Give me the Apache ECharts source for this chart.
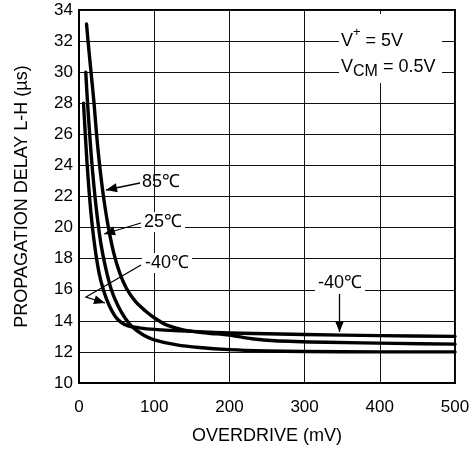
<!DOCTYPE html>
<html><head><meta charset="utf-8">
<script src="https://cdn.jsdelivr.net/npm/echarts@6/dist/echarts.min.js"></script>
<style>html,body{margin:0;padding:0;background:#fff}#c{width:473px;height:451px}</style>
</head><body><div id="c"></div>
<script>
// ---- data ----
const xTicks = [0, 100, 200, 300, 400, 500];
const yTicks = [10, 12, 14, 16, 18, 20, 22, 24, 26, 28, 30, 32, 34];
const overdrive85 = [10, 13, 16, 20, 23, 27, 32, 38, 46, 54, 63, 75, 88, 100, 117, 140, 170, 200, 230, 260, 330, 420, 500];
const delay85     = [33.1, 31.5, 30, 28, 26.2, 24.2, 22.2, 20.3, 18.4, 17.1, 16.1, 15.25, 14.65, 14.2, 13.72, 13.4, 13.22, 13.08, 12.85, 12.72, 12.62, 12.55, 12.5];
const overdrive25 = [9, 11, 13.5, 16.5, 20, 24, 29, 35, 43, 52, 61, 70, 85, 100, 130, 160, 200, 250, 300, 400, 500];
const delay25     = [30, 28.3, 26.5, 24.5, 22.6, 20.8, 19, 17.5, 16, 14.95, 14.2, 13.65, 13.1, 12.78, 12.45, 12.28, 12.15, 12.07, 12.03, 12.0, 12.0];
const overdriveM40 = [6, 8, 10.5, 13.5, 17, 21.5, 27, 33, 40, 48, 56, 65, 80, 100, 150, 200, 300, 400, 500];
const delayM40     = [28, 26.3, 24.3, 22.3, 20.4, 18.6, 17, 15.9, 15, 14.3, 13.9, 13.68, 13.55, 13.45, 13.32, 13.22, 13.12, 13.05, 13.0];

const pair = (xs, ys) => xs.map((x, i) => [x, ys[i]]);

const FONT = '"Liberation Sans", Arial, Helvetica, sans-serif';
const FS_TICK = 17, FS_NAME = 18, FS_ANN = 18;
const chart = echarts.init(document.getElementById('c'), null, {renderer: 'canvas'});

const lineSeries = (name, data) => ({
  name, type: 'line', data, symbol: 'none', smooth: 0.3,
  lineStyle: {color: '#000', width: 3.4, join: 'round', cap: 'round'}, z: 5, animation: false
});

function arrow(points, color) {
  const els = [];
  els.push({type: 'polyline', shape: {points}, style: {stroke: color, lineWidth: 1.3, fill: null}, z: 20});
  const [x1, y1] = points[points.length - 2];
  const [x2, y2] = points[points.length - 1];
  const a = Math.atan2(y2 - y1, x2 - x1);
  const L = 11, W = 4.5;
  const bx = x2 - L * Math.cos(a), by = y2 - L * Math.sin(a);
  els.push({type: 'polygon', shape: {points: [[x2, y2],
    [bx + W * Math.sin(a), by - W * Math.cos(a)],
    [bx - W * Math.sin(a), by + W * Math.cos(a)]]},
    style: {fill: color}, z: 21});
  return els;
}
function label(text, x, y, bg) {
  return {type: 'text', x, y, z: 22, style: {text, font: FS_ANN + 'px ' + FONT, fill: '#000',
    verticalAlign: 'middle', align: 'left', backgroundColor: bg ? '#fff' : null, padding: bg ? [1, 3] : 0}};
}

chart.setOption({
  animation: false,
  backgroundColor: '#fff',
  grid: {left: 79, right: 18, top: 10, bottom: 68, show: true, borderColor: '#000', borderWidth: 2, backgroundColor: 'transparent'},
  xAxis: {
    type: 'value', min: xTicks[0], max: xTicks[xTicks.length - 1], interval: xTicks[1] - xTicks[0],
    name: 'OVERDRIVE (mV)', nameLocation: 'middle', nameGap: 44,
    nameTextStyle: {fontSize: FS_NAME, color: '#000', fontFamily: FONT},
    axisLine: {show: true, lineStyle: {color: '#000', width: 2}}, axisTick: {show: false},
    axisLabel: {fontSize: FS_TICK, color: '#000', fontFamily: FONT, margin: 16},
    splitLine: {show: true, lineStyle: {color: '#111', width: 1}}
  },
  yAxis: {
    type: 'value', min: yTicks[0], max: yTicks[yTicks.length - 1], interval: yTicks[1] - yTicks[0],
    name: 'PROPAGATION DELAY L-H (µs)', nameLocation: 'middle', nameGap: 48,
    nameTextStyle: {fontSize: FS_NAME, color: '#000', fontFamily: FONT},
    axisLine: {show: true, lineStyle: {color: '#000', width: 2}}, axisTick: {show: false},
    axisLabel: {fontSize: FS_TICK, color: '#000', fontFamily: FONT, margin: 6},
    splitLine: {show: true, lineStyle: {color: '#111', width: 1}}
  },
  series: [
    lineSeries('85℃', pair(overdrive85, delay85)),
    lineSeries('25℃', pair(overdrive25, delay25)),
    lineSeries('-40℃', pair(overdriveM40, delayM40))
  ],
  graphic: [
    {type: 'rect', shape: {x: 339, y: 14, width: 103, height: 69}, style: {fill: '#fff'}, z: 19},
    {type: 'text', x: 341, y: 38, z: 22, style: {
      text: '{n|V}{sup|+}{n| = 5V}', verticalAlign: 'middle', align: 'left',
      rich: {n: {fontSize: FS_ANN, fontFamily: FONT, fill: '#000', color: '#000', lineHeight: 24, verticalAlign: 'bottom'},
             sup: {fontSize: 13, fontFamily: FONT, fill: '#000', color: '#000', lineHeight: 24, verticalAlign: 'top'}}}},
    {type: 'text', x: 341, y: 69, z: 22, style: {
      text: '{n|V}{sub|CM}{n| = 0.5V}', verticalAlign: 'middle', align: 'left',
      rich: {n: {fontSize: FS_ANN, fontFamily: FONT, fill: '#000', color: '#000', lineHeight: 22, verticalAlign: 'top'},
             sub: {fontSize: 16, fontFamily: FONT, fill: '#000', color: '#000', lineHeight: 22, verticalAlign: 'bottom'}}}},
    label('85℃', 142, 182, false),
    ...arrow([[140, 183], [106, 190]], '#000'),
    label('25℃', 141, 222, true),
    ...arrow([[141, 223], [104, 234]], '#000'),
    label('-40℃', 142, 263, true),
    ...arrow([[141, 265], [86, 297], [105, 303]], '#000'),
    label('-40℃', 315, 283, true),
    ...arrow([[339.5, 294], [339.5, 332]], '#000')
  ]
});
</script></body></html>
